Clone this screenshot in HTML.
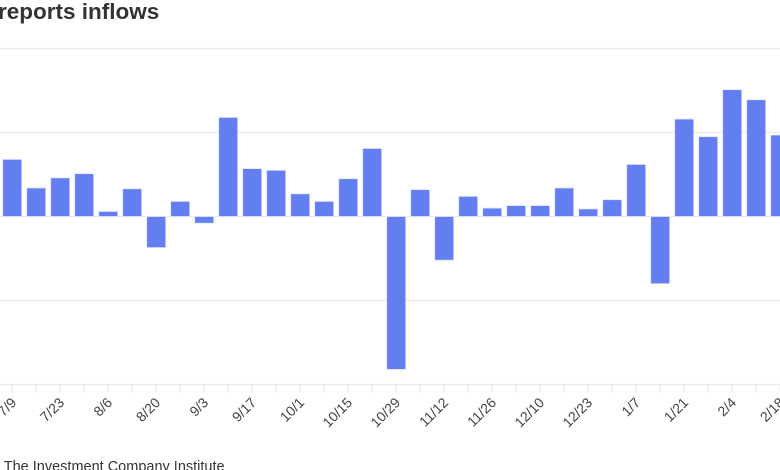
<!DOCTYPE html>
<html><head><meta charset="utf-8"><style>
html,body{margin:0;padding:0;background:#fff;width:780px;height:470px;overflow:hidden}
svg{display:block}
text{font-family:"Liberation Sans",sans-serif}
</style></head><body>
<svg id="chart" width="780" height="470">
<text x="-2" y="19" font-size="22.5" font-weight="bold" fill="#333">reports inflows</text>
<text x="-50" y="471" font-size="14.5" fill="#333">Source: The Investment Company Institute</text>
<g id="grid"></g><g id="bars"></g><g id="xaxis"></g>
</svg>
<script>
const categories=["7/9","7/16","7/23","7/30","8/6","8/13","8/20","8/27","9/3","9/10","9/17","9/24","10/1","10/8","10/15","10/22","10/29","11/5","11/12","11/19","11/26","12/3","12/10","12/17","12/23","12/31","1/7","1/14","1/21","1/28","2/4","2/11","2/18"];
const values=[6.8,3.4,4.6,5.1,0.6,3.3,-3.7,1.8,-0.8,11.8,5.7,5.5,2.7,1.8,4.5,8.1,-18.2,3.2,-5.2,2.4,1.0,1.3,1.3,3.4,0.9,2.0,6.2,-8.0,11.6,9.5,15.1,13.9,9.7];
const gridValues=[20,10,0,-10,-20];
const labelEvery=2;
const NS="http://www.w3.org/2000/svg";
const y0=216.5, pxPerUnit=8.4, x0=2.7, pitch=24, bw=19;
const y=v=>y0-v*pxPerUnit;
const x=i=>x0+i*pitch;
function mk(t,a,p){const e=document.createElementNS(NS,t);for(const k in a)e.setAttribute(k,a[k]);p.appendChild(e);return e;}
const grid=document.getElementById('grid'),bars=document.getElementById('bars'),ax=document.getElementById('xaxis');
gridValues.forEach(g=>{
  const l=mk('line',{x1:0,x2:780,y1:y(g),y2:y(g),stroke:'#ebebeb','stroke-width':1.5},grid);
  
  
});
values.forEach((v,i)=>{
  const top=Math.min(y(v),y0),h=Math.abs(y(v)-y0);
  const r=mk('rect',{x:x(i),y:top,width:bw,height:h,fill:'#637ef0',stroke:'#dfe5fc','stroke-width':0.8},bars);
  
  
});
const axisY=y(-20);
categories.forEach((c,i)=>{
  const cx=x(i)+bw/2;
  const t=mk('line',{x1:cx,x2:cx,y1:axisY,y2:axisY+8,stroke:'#e3e3e3','stroke-width':1},ax);
  
  
  if(i%labelEvery===0){
    const lx=cx+5, ly=axisY+19;
    const tx=mk('text',{x:lx,y:ly,'font-size':14,fill:'#444','text-anchor':'end',transform:`rotate(-45 ${lx} ${ly})`},ax);
    tx.textContent=c;
    
    
  }
});
</script>
</body></html>
